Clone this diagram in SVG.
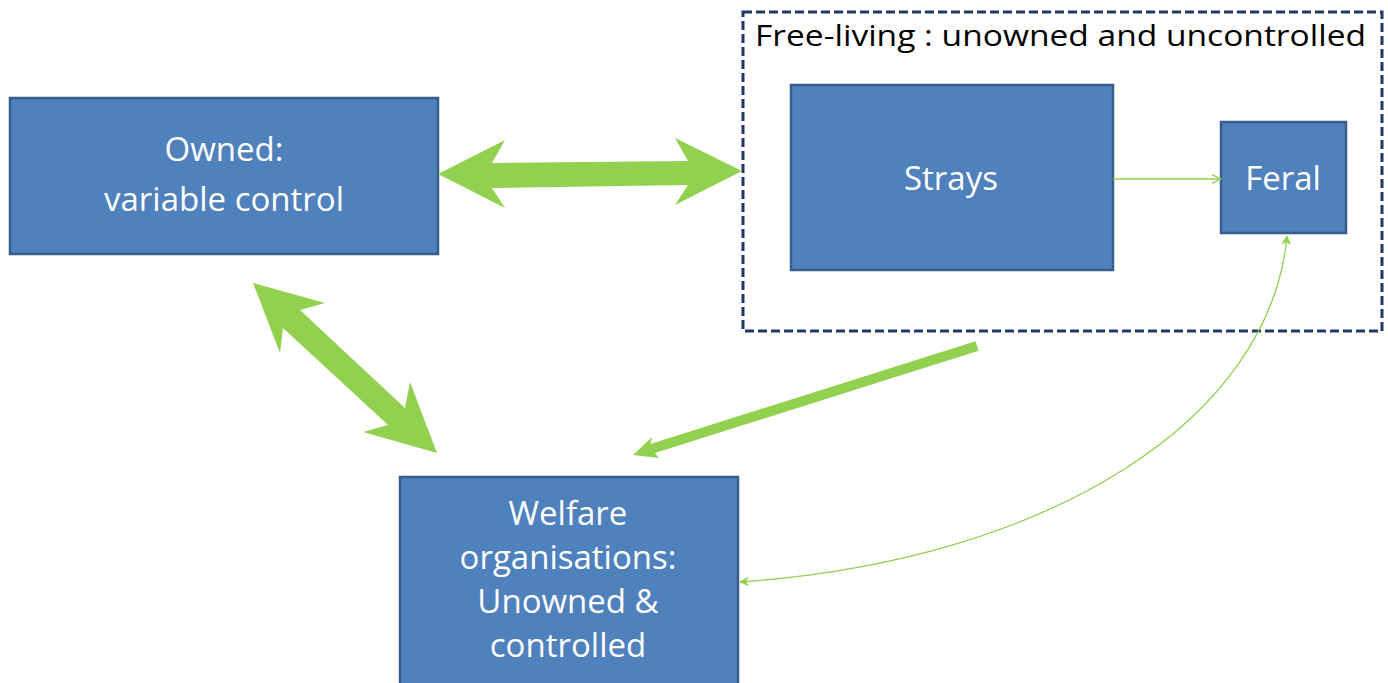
<svg xmlns="http://www.w3.org/2000/svg" width="1388" height="683" viewBox="0 0 1388 683">
<style>
.box{fill:#4F81BD;stroke:#385D8A;stroke-width:2.5}
.lbl{font-family:"Open Sans","Liberation Sans",sans-serif;font-size:33px;fill:#FFFFFF;text-anchor:middle}
.title{font-family:"Open Sans","Liberation Sans",sans-serif;font-size:29px;fill:#000000}
.big{fill:#92D050;stroke:none}
.thin{fill:none;stroke:#92D050;stroke-width:1.3}
</style>
<defs>
<marker id="open" viewBox="0 0 10 10" refX="9.5" refY="5" markerWidth="10" markerHeight="10" markerUnits="userSpaceOnUse" orient="auto">
<path d="M0,0.5 L9.5,5 L0,9.5" fill="none" stroke="#92D050" stroke-width="1.3"/>
</marker>
<marker id="stealth" viewBox="0 0 10 10" refX="9" refY="5" markerWidth="10" markerHeight="10" markerUnits="userSpaceOnUse" orient="auto-start-reverse">
<path d="M0,0 L10,5 L0,10 L3,5 Z" fill="#92D050"/>
</marker>
</defs>
<rect width="1388" height="683" fill="#FFFFFF"/>
<g id="freeliving">
<rect x="743" y="12" width="639" height="319" fill="none" stroke="#1F3864" stroke-width="3" stroke-dasharray="9,4"/>
<text class="title" x="755" y="46" textLength="611" lengthAdjust="spacingAndGlyphs">Free-living : unowned and uncontrolled</text>
</g>
<g id="owned">
<rect class="box" x="10" y="98" width="428" height="156"/>
<text class="lbl" x="224" y="161">Owned:</text>
<text class="lbl" x="224" y="211">variable control</text>
</g>
<g id="strays">
<rect class="box" x="791" y="85" width="322" height="185"/>
<text class="lbl" x="951" y="190">Strays</text>
</g>
<g id="feral">
<rect class="box" x="1221" y="122" width="125" height="111"/>
<text class="lbl" x="1283" y="190">Feral</text>
</g>
<g id="welfare">
<rect class="box" x="400" y="477" width="338" height="215"/>
<text class="lbl" x="568" y="525">Welfare</text>
<text class="lbl" x="568" y="569">organisations:</text>
<text class="lbl" x="568" y="613">Unowned &amp;</text>
<text class="lbl" x="568" y="657">controlled</text>
</g>
<g id="connectors">
<polygon class="big" points="438,174 505,140 492,163 688,161 675,138 742,171 675,205 688,185 492,188 505,208"/>
<polygon class="big" points="253,283 325,303 300,310 405,408 410,382 437,453 363,432 388,425 283,328 280,353"/>
<line x1="977" y1="346" x2="648" y2="450" stroke="#92D050" stroke-width="10"/>
<path d="M633,455 L652,437 L650,447 L659,458 Z" fill="#92D050"/>
<line class="thin" x1="1113" y1="179" x2="1221" y2="179" marker-end="url(#open)"/>
<path class="thin" d="M740,582 C1050,560 1270,420 1287,236" marker-start="url(#stealth)" marker-end="url(#stealth)"/>
</g>
</svg>
